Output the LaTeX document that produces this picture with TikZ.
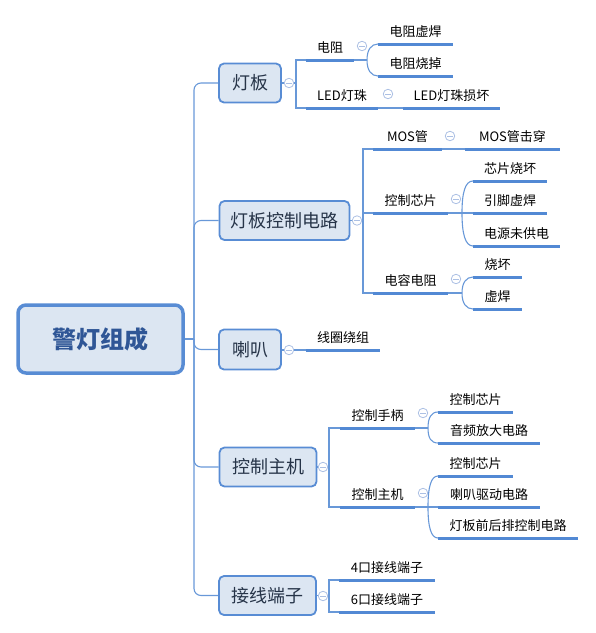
\documentclass[tikz,border=0pt]{standalone}
\usepackage{fontspec}
\setmainfont{Noto Sans CJK SC}
\definecolor{boxline}{RGB}{88,140,212}
\definecolor{boxfill}{RGB}{220,230,242}
\definecolor{uline}{RGB}{82,137,212}
\definecolor{connc}{RGB}{104,152,216}
\definecolor{collc}{RGB}{172,192,228}
\definecolor{roottext}{RGB}{47,86,150}
\definecolor{l1text}{RGB}{38,52,72}
\tikzset{
  rootbox/.style={rectangle, rounded corners=8pt, draw=boxline, line width=3.5pt, fill=boxfill,
    minimum width=165pt, minimum height=68pt, inner sep=0pt, text=roottext,
    font=\fontsize{24}{26}\selectfont\bfseries},
  l1box/.style={rectangle, rounded corners=5pt, draw=boxline, line width=1.8pt, fill=boxfill,
    minimum height=39pt, inner sep=0pt, text=l1text, font=\fontsize{18}{20}\selectfont},
  lbl/.style={inner sep=0pt, text=black, font=\fontsize{13}{15}\selectfont},
  ul/.style={draw=uline, line width=3pt},
  conn/.style={draw=connc, line width=1.1pt},
  coll/.style={circle, draw=collc, fill=white, minimum size=9.5pt, inner sep=0pt, line width=0.8pt,
    path picture={\draw[collc, line width=0.9pt] ([xshift=-2.6pt]path picture bounding box.center) -- ([xshift=2.6pt]path picture bounding box.center);}}
}
\newcommand\topic[5]{%
  \coordinate (#1s) at (#2,#4);
  \coordinate (#1e) at (#3,#4);
  \draw[ul] (#1s) -- (#1e);
  \node[lbl] (#1) at ({(#2+#3)/2},{#4-12.5}) {#5};
}
\begin{document}
\begin{tikzpicture}[x=1pt,y=-1pt]
\useasboundingbox (0,0) rectangle (596,633);

% root and level 1
\node[rootbox] (root) at (100.5,339) {警灯组成};
\node[l1box, minimum width=62pt] (b1) at (250,83) {灯板};
\node[l1box, minimum width=130pt] (b2) at (284.5,220.5) {灯板控制电路};
\node[l1box, minimum width=62pt, minimum height=40pt] (b3) at (250,349.5) {喇叭};
\node[l1box, minimum width=97pt] (b4) at (268,467) {控制主机};
\node[l1box, minimum width=97pt] (b5) at (267.5,595.5) {接线端子};

% trunk
\coordinate (tr) at (194,339);
\draw[conn] (root.east) -- (tr);
\draw[conn, rounded corners=7pt] (tr) |- (b1.west);
\draw[conn, rounded corners=7pt] (tr) |- (b2.west);
\draw[conn, rounded corners=7pt] (tr) |- (b3.west);
\draw[conn, rounded corners=7pt] (tr) |- (b4.west);
\draw[conn, rounded corners=7pt] (tr) |- (b5.west);

% forks
\coordinate (f1) at (296,83);
\coordinate (f2) at (363,220.5);
\coordinate (f4) at (329,467);
\coordinate (f5) at (329,595.5);
\coordinate (g11) at (367,60);
\coordinate (g22) at (462,213);
\coordinate (g23) at (462,293);
\coordinate (g41) at (428,428);
\coordinate (g42) at (428,507);

% topics (coordinates first, used by connectors)
\topic{t11}{306}{354}{60}{电阻}
\topic{t111}{378}{453}{44}{电阻虚焊}
\topic{t112}{378}{453}{76}{电阻烧掉}
\topic{t12}{306}{378}{108}{LED灯珠}
\topic{t121}{403}{500}{108}{LED灯珠损坏}

\topic{t21}{373}{442}{149}{MOS管}
\topic{t211}{465}{560}{149}{MOS管击穿}
\topic{t22}{373}{448}{213}{控制芯片}
\topic{t221}{473}{547}{181}{芯片烧坏}
\topic{t222}{473}{547}{213}{引脚虚焊}
\topic{t223}{473}{560}{246}{电源未供电}
\topic{t23}{373}{448}{293}{电容电阻}
\topic{t231}{473}{522}{277}{烧坏}
\topic{t232}{473}{522}{309}{虚焊}

\topic{t31}{306}{380}{350}{线圈绕组}

\topic{t41}{340}{415}{428}{控制手柄}
\topic{t411}{438}{513}{412}{控制芯片}
\topic{t412}{438}{540}{443}{音频放大电路}
\topic{t42}{340}{415}{507}{控制主机}
\topic{t421}{438}{513}{476}{控制芯片}
\topic{t422}{438}{540}{507}{喇叭驱动电路}
\topic{t423}{438}{578}{538}{灯板前后排控制电路}

\topic{t51}{339}{435}{580}{4口接线端子}
\topic{t52}{339}{435}{612}{6口接线端子}

% level 1 -> level 2 connectors
\draw[conn] (b1.east) -- (f1);
\draw[conn] (f1) |- (t11s);
\draw[conn] (f1) |- (t12s);
\draw[conn] (b2.east) -- (f2);
\draw[conn] (f2) |- (t21s);
\draw[conn] (f2) |- (t22s);
\draw[conn] (f2) |- (t23s);
\draw[conn] (b3.east |- t31s) -- (t31s);
\draw[conn] (b4.east) -- (f4);
\draw[conn] (f4) |- (t41s);
\draw[conn] (f4) |- (t42s);
\draw[conn] (b5.east) -- (f5);
\draw[conn] (f5) |- (t51s);
\draw[conn] (f5) |- (t52s);

% level 2 -> level 3 connectors
\draw[conn] (t11e) -- (g11);
\draw[conn] (g11) .. controls +(0,-10) and +(-7,0) .. (t111s);
\draw[conn] (g11) .. controls +(0,10) and +(-7,0) .. (t112s);
\draw[conn] (t12e) -- (t121s);
\draw[conn] (t21e) -- (t211s);
\draw[conn] (t22e) -- (t222s);
\draw[conn] (g22) .. controls +(0,-20) and +(-8,0) .. (t221s);
\draw[conn] (g22) .. controls +(0,20) and +(-8,0) .. (t223s);
\draw[conn] (t23e) -- (g23);
\draw[conn] (g23) .. controls +(0,-10) and +(-7,0) .. (t231s);
\draw[conn] (g23) .. controls +(0,10) and +(-7,0) .. (t232s);
\draw[conn] (t41e) -- (g41);
\draw[conn] (g41) .. controls +(0,-10) and +(-7,0) .. (t411s);
\draw[conn] (g41) .. controls +(0,10) and +(-7,0) .. (t412s);
\draw[conn] (t42e) -- (t422s);
\draw[conn] (g42) .. controls +(0,-20) and +(-7,0) .. (t421s);
\draw[conn] (g42) .. controls +(0,20) and +(-7,0) .. (t423s);

% collapse markers
\node[coll] (c1) at (289,83) {};
\node[coll] (c11) at (362,46) {};
\node[coll] (c12) at (388,94) {};
\node[coll] (c2) at (357,220.5) {};
\node[coll] (c21) at (450,136) {};
\node[coll] (c22) at (456,199) {};
\node[coll] (c23) at (456,279) {};
\node[coll] (c3) at (289,350) {};
\node[coll] (c4) at (323,467) {};
\node[coll] (c41) at (423,413) {};
\node[coll] (c42) at (423,493) {};
\node[coll] (c5) at (323,596) {};
\end{tikzpicture}
\end{document}
